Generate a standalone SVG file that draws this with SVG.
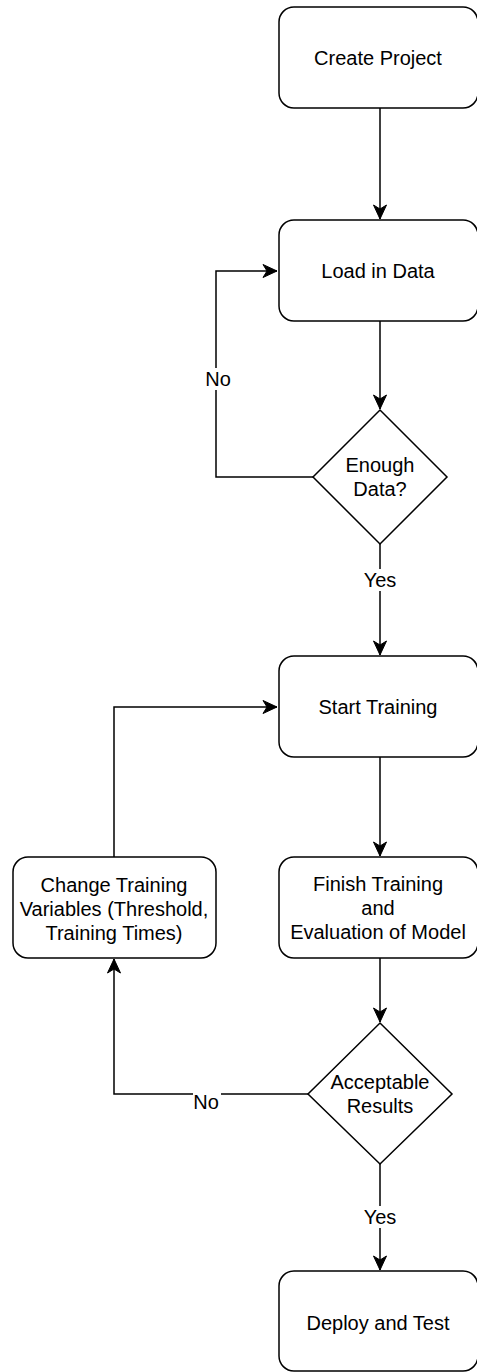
<svg xmlns="http://www.w3.org/2000/svg" width="477" height="1372" viewBox="0 0 477 1372">
<style>
.box{fill:#fff;stroke:#000;stroke-width:1.5}
.edge{fill:none;stroke:#000;stroke-width:1.5}
text{font-family:"Liberation Sans",Arial,Helvetica,sans-serif;font-size:20px;fill:#000;text-anchor:middle}
.lbl{fill:#fff;stroke:none}
</style>
<defs>
<marker id="arr" markerUnits="userSpaceOnUse" markerWidth="16" markerHeight="16" viewBox="-15 -8 16 16" refX="0" refY="0" orient="auto">
<path d="M0,0 L-14,-6.5 L-10,0 L-14,6.5 Z" fill="#000" stroke="#000" stroke-width="1"/>
</marker>
</defs>
<g id="edges">
<path class="edge" d="M380,108 L380,219" marker-end="url(#arr)"/>
<path class="edge" d="M380,321 L380,409" marker-end="url(#arr)"/>
<path class="edge" d="M313,477 L216,477 L216,271 L277,271" marker-end="url(#arr)"/>
<path class="edge" d="M380,544 L380,655" marker-end="url(#arr)"/>
<path class="edge" d="M380,757 L380,856" marker-end="url(#arr)"/>
<path class="edge" d="M114,857 L114,707 L277,707" marker-end="url(#arr)"/>
<path class="edge" d="M380,958 L380,1022" marker-end="url(#arr)"/>
<path class="edge" d="M308,1094 L114,1094 L114,959" marker-end="url(#arr)"/>
<path class="edge" d="M380,1164 L380,1270" marker-end="url(#arr)"/>
<rect class="lbl" x="205" y="368" width="26" height="22"/>
<text x="218" y="386">No</text>
<rect class="lbl" x="364" y="569" width="32" height="22"/>
<text x="380" y="587">Yes</text>
<rect class="lbl" x="193" y="1092" width="28" height="20"/>
<text x="206" y="1109">No</text>
<rect class="lbl" x="364" y="1206" width="32" height="22"/>
<text x="380" y="1224">Yes</text>
</g>
<g id="create-project">
<rect class="box" x="279" y="7" width="199" height="101" rx="15" ry="15"/>
<text x="378" y="65">Create Project</text>
</g>
<g id="load-data">
<rect class="box" x="279" y="220" width="199" height="101" rx="15" ry="15"/>
<text x="378" y="278">Load in Data</text>
</g>
<g id="enough-data">
<path class="box" d="M380,410 L447,477 L380,544 L313,477 Z"/>
<text x="380" y="472">Enough</text>
<text x="380" y="496">Data?</text>
</g>
<g id="start-training">
<rect class="box" x="279" y="656" width="199" height="101" rx="15" ry="15"/>
<text x="378" y="714">Start Training</text>
</g>
<g id="finish-training">
<rect class="box" x="279" y="857" width="199" height="101" rx="15" ry="15"/>
<text x="378" y="891">Finish Training</text>
<text x="378" y="915">and</text>
<text x="378" y="939">Evaluation of Model</text>
</g>
<g id="change-variables">
<rect class="box" x="13" y="857" width="203" height="101" rx="15" ry="15"/>
<text x="114" y="892">Change Training</text>
<text x="114" y="916">Variables (Threshold,</text>
<text x="114" y="940">Training Times)</text>
</g>
<g id="acceptable-results">
<path class="box" d="M380,1023 L452,1094 L380,1164 L308,1094 Z"/>
<text x="380" y="1089">Acceptable</text>
<text x="380" y="1113">Results</text>
</g>
<g id="deploy-test">
<rect class="box" x="279" y="1271" width="199" height="100" rx="15" ry="15"/>
<text x="378" y="1330">Deploy and Test</text>
</g>
</svg>
